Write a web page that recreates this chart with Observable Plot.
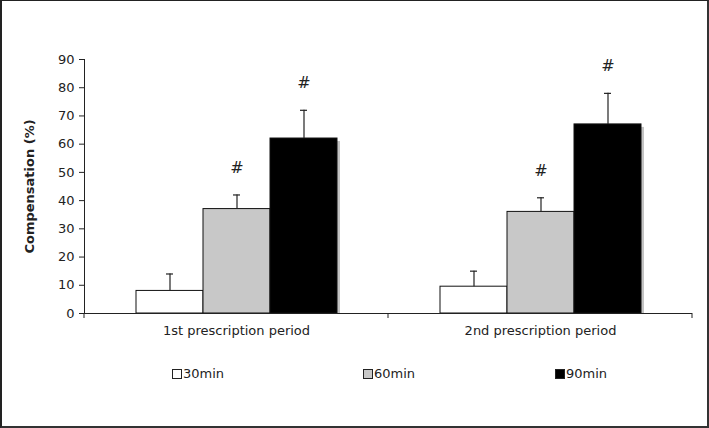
<!DOCTYPE html>
<html>
<head>
<meta charset="utf-8">
<script src="https://cdn.jsdelivr.net/npm/d3@7"></script>
<script src="https://cdn.jsdelivr.net/npm/@observablehq/plot@0.6"></script>
<style>
  html, body { margin: 0; padding: 0; background: #fff; }
  #wrap { position: relative; width: 709px; height: 428px; overflow: hidden; font-family: "DejaVu Sans", Verdana, sans-serif; }
  #frame { position: absolute; left: 0; top: 0; width: 709px; height: 428px; box-sizing: border-box;
           border-top: 1px solid #222; border-left: 2px solid #222; border-right: 2px solid #333; border-bottom: 2px solid #333; pointer-events: none; }
  #chart { position: absolute; left: 0; top: 0; }
  #legend { position: absolute; top: 366px; left: 0; width: 709px; height: 16px; font-size: 13px; color: #222; }
  .item { position: absolute; top: 0; display: flex; align-items: center; }
  .sw { width: 8px; height: 8px; border: 1px solid #222; margin-right: 1px; }
</style>
</head>
<body>
<div id="wrap">
  <div id="chart"></div>
  <div id="legend"></div>
  <div id="frame"></div>
</div>
<script>
// ---- data ----
const periods = ["1st prescription period", "2nd prescription period"];
const durations = ["30min", "60min", "90min"];
const means1 = [8, 37, 62];      // 1st period
const means2 = [9.5, 36, 67];    // 2nd period
const errs1 = [6, 5, 10];
const errs2 = [5.5, 5, 11];
const signif1 = ["", "#", "#"];
const signif2 = ["", "#", "#"];
const yTicks = [0, 10, 20, 30, 40, 50, 60, 70, 80, 90];
const yLabel = "Compensation (%)";
const fills = ["#ffffff", "#c8c8c8", "#000000"];
const legendX = [172, 363, 555];

const rows = [];
periods.forEach((p, pi) => {
  const m = pi === 0 ? means1 : means2;
  const e = pi === 0 ? errs1 : errs2;
  const s = pi === 0 ? signif1 : signif2;
  durations.forEach((d, di) => {
    rows.push({period: p, dur: d, value: m[di], top: m[di] + e[di], sig: s[di]});
  });
});

const plot = Plot.plot({
  width: 709,
  height: 345,
  marginLeft: 83,
  marginRight: 17,
  marginTop: 59,
  marginBottom: 32,
  style: {fontFamily: "DejaVu Sans, Verdana, sans-serif", fontSize: "13px", color: "#222", background: "transparent"},
  fx: {domain: periods, padding: 0, label: null, tickSize: 0, tickPadding: 12},
  x: {domain: durations, paddingInner: 0, paddingOuter: 0.74, axis: null},
  y: {domain: [0, 90], ticks: yTicks, tickSize: 5, tickPadding: 5, label: yLabel, labelAnchor: "center", labelOffset: 60},
  color: {domain: durations, range: fills},
  marks: [
    Plot.frame({anchor: "left", facetAnchor: "left", stroke: "#222"}),
    // shadow of the black bars
    Plot.barY(rows.filter(r => r.dur === "90min"), {fx: "period", x: "dur", y: "value", fill: "#c4c4c4", dx: 3, insetTop: 3}),
    Plot.barY(rows, {fx: "period", x: "dur", y: "value", fill: "dur", stroke: "#111", strokeWidth: 1}),
    Plot.ruleX(rows, {fx: "period", x: "dur", y1: "value", y2: "top", stroke: "#222", strokeWidth: 1.2}),
    Plot.tickY(rows, {fx: "period", x: "dur", y: "top", stroke: "#222", strokeWidth: 1.2, insetLeft: 30, insetRight: 30}),
    Plot.text(rows.filter(r => r.sig), {fx: "period", x: "dur", y: "top", text: "sig", dy: -27, fontSize: 16, fill: "#222"}),
    Plot.ruleY([0], {stroke: "#222"})
  ]
});

const svg = d3.select(plot);
// y-axis title: bold, without arrow
svg.selectAll("g[aria-label='y-axis label'] text").text(yLabel).attr("font-weight", "bold");

// boundary ticks on the x axis, placed from the fx scale
const fx = plot.scale("fx");
const y0 = plot.scale("y").apply(0);
const edges = [];
periods.forEach(p => { const s = fx.apply(p); edges.push(s, s + fx.bandwidth); });
Array.from(new Set(edges.map(e => Math.round(e * 10) / 10))).forEach(e => {
  svg.append("line").attr("x1", e).attr("x2", e).attr("y1", y0).attr("y2", y0 + 5).attr("stroke", "#222");
});

document.getElementById("chart").appendChild(plot);

const lg = document.getElementById("legend");
durations.forEach((d, i) => {
  const it = document.createElement("div");
  it.className = "item";
  it.style.left = legendX[i] + "px";
  it.innerHTML = `<span class="sw" style="background:${fills[i]}"></span><span>${d}</span>`;
  lg.appendChild(it);
});
</script>
</body>
</html>
